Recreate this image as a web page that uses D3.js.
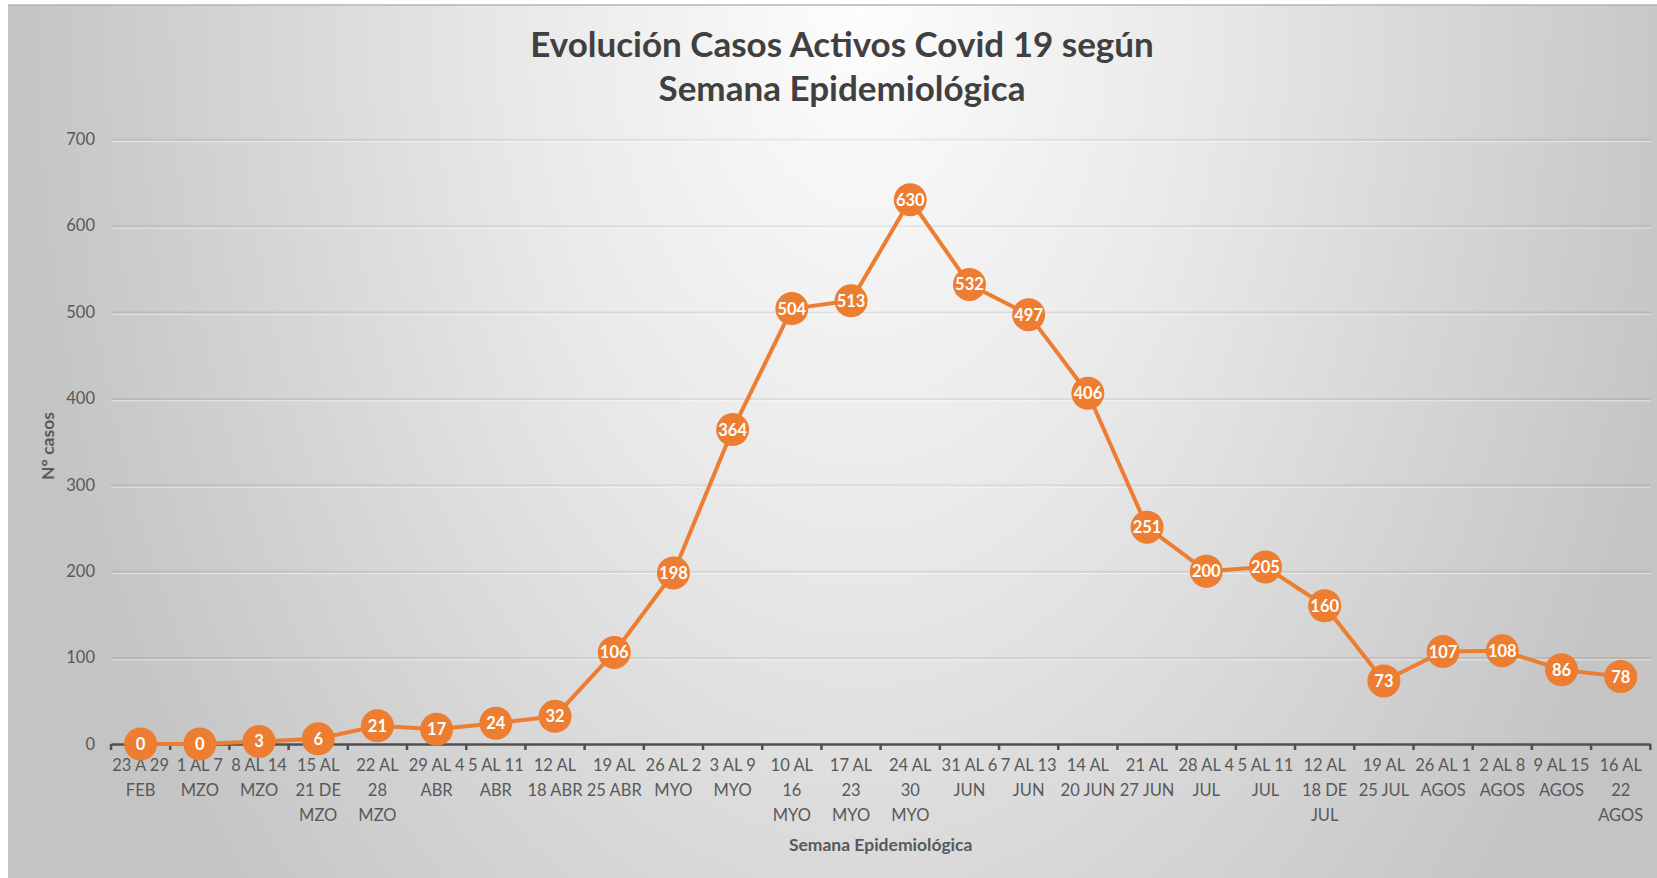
<!DOCTYPE html>
<html>
<head>
<meta charset="utf-8">
<script src="https://cdn.jsdelivr.net/npm/d3@7"></script>
<style>
  html, body { margin: 0; padding: 0; background: #ffffff; }
  svg { display: block; font-family: Lato, "Open Sans", sans-serif; }
</style>
</head>
<body>
<svg id="chart" width="1657" height="878"></svg>
<script>
// semanas epidemiologicas (saltos de linea como en el grafico original)
let semanas = [
    '23 A 29\nFEB', '1 AL 7\nMZO', '8 AL 14\nMZO', '15 AL\n21 DE\nMZO', '22 AL\n28\nMZO',
    '29 AL 4\nABR', '5 AL 11\nABR', '12 AL\n18 ABR', '19 AL\n25 ABR', '26 AL 2\nMYO',
    '3 AL 9\nMYO', '10 AL\n16\nMYO', '17 AL\n23\nMYO', '24 AL\n30\nMYO', '31 AL 6\nJUN',
    '7 AL 13\nJUN', '14 AL\n20 JUN', '21 AL\n27 JUN', '28 AL 4\nJUL', '5 AL 11\nJUL',
    '12 AL\n18 DE\nJUL', '19 AL\n25 JUL', '26 AL 1\nAGOS', '2 AL 8\nAGOS', '9 AL 15\nAGOS',
    '16 AL\n22\nAGOS'
]

let casosActivos = [0, 0, 3, 6, 21, 17, 24, 32, 106, 198, 364, 504, 513, 630, 532, 497, 406, 251, 200, 205, 160, 73, 107, 108, 86, 78]

let yTicks = [0, 100, 200, 300, 400, 500, 600, 700]

let titulo = ['Evolución Casos Activos Covid 19 según', 'Semana Epidemiológica']
let tituloX = 'Semana Epidemiológica'
let tituloY = 'N° casos'

let naranja = '#ED7D31'
let gris = '#595959'

let svg = d3.select('#chart')

let plotLeft = 111
let plotRight = 1650.3
let plotTop = 139.3
let plotBottom = 744

let defs = svg.append('defs')

// fondo con degradado radial claro arriba al centro
let bg = defs.append('radialGradient')
    .attr('id', 'fondo')
    .attr('gradientUnits', 'userSpaceOnUse')
    .attr('cx', 860).attr('cy', 0).attr('r', 850)
    .attr('gradientTransform', 'translate(860,0) scale(1,1.6) translate(-860,0)')
bg.append('stop').attr('offset', 0).attr('stop-color', '#fdfdfd')
bg.append('stop').attr('offset', 0.4).attr('stop-color', '#e9e9e9')
bg.append('stop').attr('offset', 0.7).attr('stop-color', '#d6d6d6')
bg.append('stop').attr('offset', 1).attr('stop-color', '#c4c4c4')

// lineas de cuadricula mas oscuras abajo
let gridGrad = defs.append('linearGradient')
    .attr('id', 'grid')
    .attr('gradientUnits', 'userSpaceOnUse')
    .attr('x1', 0).attr('x2', 0)
    .attr('y1', plotTop).attr('y2', plotBottom)
gridGrad.append('stop').attr('offset', 0).attr('stop-color', '#000').attr('stop-opacity', 0.07)
gridGrad.append('stop').attr('offset', 0.45).attr('stop-color', '#000').attr('stop-opacity', 0.3)
gridGrad.append('stop').attr('offset', 1).attr('stop-color', '#000').attr('stop-opacity', 0.42)

svg.append('rect')
    .attr('x', 8).attr('y', 5)
    .attr('width', 1649).attr('height', 873)
    .attr('fill', 'url(#fondo)')

svg.append('line')
    .attr('x1', 8).attr('x2', 1657)
    .attr('y1', 5).attr('y2', 5)
    .attr('stroke', '#b4b4b4')
    .attr('stroke-width', 1.5)

let x = d3.scaleBand()
    .domain(semanas)
    .range([plotLeft, plotRight])

let y = d3.scaleLinear()
    .domain([0, 700])
    .range([plotBottom, plotTop])

// titulo
svg.append('text')
    .attr('text-anchor', 'middle')
    .attr('font-weight', 700)
    .attr('font-size', 35)
    .attr('fill', '#404040')
    .selectAll('tspan')
    .data(titulo)
    .enter()
    .append('tspan')
    .attr('x', 842)
    .attr('y', (d, i) => 57 + i * 44)
    .text(d => d)

// cuadricula
let grid = svg.append('g')
    .attr('transform', 'translate(' + plotLeft + ',0)')
    .call(d3.axisLeft(y).tickValues(yTicks.slice(1)).tickSize(-(plotRight - plotLeft)).tickFormat(''))
grid.select('.domain').remove()
grid.selectAll('line')
    .attr('stroke', 'url(#grid)')
    .attr('stroke-width', 2)
grid.selectAll('.tick')
    .append('line')
    .attr('x2', plotRight - plotLeft)
    .attr('y1', 1.8).attr('y2', 1.8)
    .attr('stroke', '#ffffff')
    .attr('stroke-opacity', 0.5)
    .attr('stroke-width', 1)

// eje y
let yAxis = svg.append('g')
    .attr('transform', 'translate(' + plotLeft + ',0)')
    .call(d3.axisLeft(y).tickValues(yTicks).tickSize(0).tickPadding(16))
yAxis.select('.domain').remove()
yAxis.selectAll('text')
    .attr('font-family', 'Lato, sans-serif')
    .attr('font-size', 16.5)
    .attr('fill', gris)

// eje x
let xAxis = svg.append('g')
    .attr('transform', 'translate(0,' + plotBottom + ')')
    .call(d3.axisBottom(x).tickSize(0).tickPadding(0))
xAxis.select('.domain')
    .attr('stroke', '#505050')
    .attr('stroke-width', 2.5)
xAxis.selectAll('text')
    .attr('font-family', 'Lato, sans-serif')
    .attr('font-size', 16.5)
    .attr('fill', gris)
    .attr('y', 0)
    .attr('dy', null)
    .each(function (d) {
        let lines = d.split('\n')
        let t = d3.select(this).text('')
        lines.forEach((line, i) => {
            t.append('tspan')
                .attr('x', 0)
                .attr('y', 27 + i * 25)
                .text(line)
        })
    })

// marcas entre categorias
let bordes = semanas.map(d => x(d)).concat([plotRight])
xAxis.selectAll('.borde')
    .data(bordes)
    .enter()
    .append('line')
    .attr('class', 'borde')
    .attr('x1', d => d).attr('x2', d => d)
    .attr('y1', 0).attr('y2', 6)
    .attr('stroke', '#505050')
    .attr('stroke-width', 2.5)

// titulos de ejes
svg.append('text')
    .attr('x', (plotLeft + plotRight) / 2)
    .attr('y', 851)
    .attr('text-anchor', 'middle')
    .attr('font-weight', 700)
    .attr('font-size', 17.5)
    .attr('fill', gris)
    .text(tituloX)

svg.append('text')
    .attr('transform', 'translate(47,446) rotate(-90)')
    .attr('text-anchor', 'middle')
    .attr('dominant-baseline', 'central')
    .attr('font-weight', 700)
    .attr('font-size', 17.5)
    .attr('fill', gris)
    .text(tituloY)

// linea de casos
let cx = (d, i) => x(semanas[i]) + x.bandwidth() / 2

let linea = d3.line()
    .x(cx)
    .y(d => y(d))

svg.append('path')
    .datum(casosActivos)
    .attr('d', linea)
    .attr('fill', 'none')
    .attr('stroke', naranja)
    .attr('stroke-width', 4)
    .attr('stroke-linejoin', 'round')

let puntos = svg.selectAll('.punto')
    .data(casosActivos)
    .enter()
    .append('g')
    .attr('class', 'punto')
    .attr('transform', (d, i) => 'translate(' + cx(d, i) + ',' + y(d) + ')')

puntos.append('circle')
    .attr('r', 16.5)
    .attr('fill', naranja)

puntos.append('text')
    .attr('text-anchor', 'middle')
    .attr('dy', '0.36em')
    .attr('font-weight', 700)
    .attr('font-size', 16.5)
    .attr('fill', '#ffffff')
    .text(d => d)
</script>
</body>
</html>
